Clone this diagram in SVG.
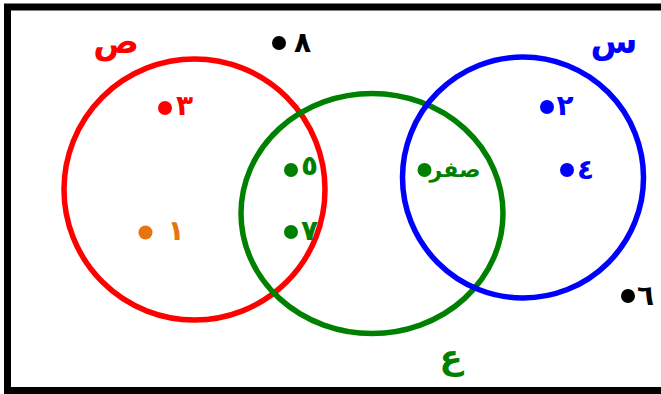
<svg xmlns="http://www.w3.org/2000/svg" width="661" height="394" viewBox="0 0 661 394">
<style>
.t{font-family:"DejaVu Sans",sans-serif;font-weight:bold;font-size:28px;text-anchor:middle}
.lbl{font-family:"DejaVu Sans",sans-serif;font-weight:bold;font-size:34px;text-anchor:middle}
.set{fill:none;stroke-width:5.5}
.r{fill:#ff0000}.g{fill:#008000}.b{fill:#0000ff}.k{fill:#000000}.o{fill:#e8740f}
</style>
<rect x="0" y="0" width="661" height="394" fill="#ffffff"/>
<rect id="universe" x="7.5" y="7" width="700" height="383.5" fill="none" stroke="#000" stroke-width="7"/>
<g id="sets">
<g id="set-sad"><circle class="set" cx="194.5" cy="189.5" r="130.5" stroke="#ff0000"/><text class="lbl r" x="116" y="53">ص</text></g>
<g id="set-ain"><ellipse class="set" cx="372" cy="213.5" rx="131" ry="120" stroke="#008000"/><text class="lbl g" x="451" y="369">ع</text></g>
<g id="set-sin"><circle class="set" cx="523" cy="177.5" r="120.5" stroke="#0000ff"/><text class="lbl b" x="614" y="53">س</text></g>
</g>
<g id="elements">
<g id="e8"><circle class="k" cx="279" cy="43" r="7"/><text class="t k" x="302.5" y="52">٨</text></g>
<g id="e3"><circle class="r" cx="165" cy="108" r="7"/><text class="t r" x="184.5" y="115">٣</text></g>
<g id="e5"><circle class="g" cx="291" cy="170" r="7"/><text class="t g" x="309.5" y="175">٥</text></g>
<g id="e7"><circle class="g" cx="291" cy="232" r="7"/><text class="t g" x="309.5" y="240">٧</text></g>
<g id="e1"><circle class="o" cx="145.5" cy="232.5" r="7"/><text class="t o" x="176" y="240">١</text></g>
<g id="e0"><circle class="g" cx="424.5" cy="170" r="7"/><text class="t g" x="455" y="177" style="font-size:22px">صفر</text></g>
<g id="e2"><circle class="b" cx="547" cy="107" r="7"/><text class="t b" x="565" y="115">٢</text></g>
<g id="e4"><circle class="b" cx="567" cy="170" r="7"/><text class="t b" x="585.5" y="179">٤</text></g>
<g id="e6"><circle class="k" cx="628" cy="296" r="7"/><text class="t k" x="645.5" y="305">٦</text></g>
</g>
</svg>
